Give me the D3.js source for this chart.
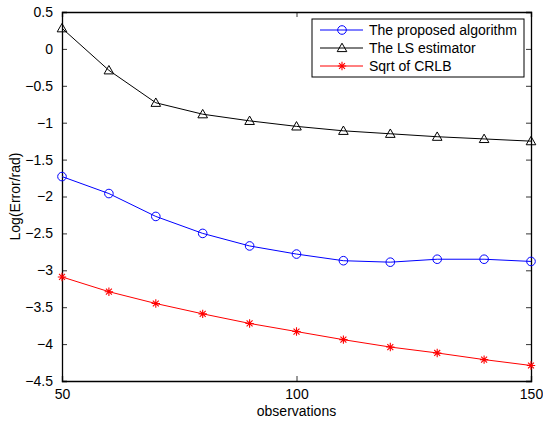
<!DOCTYPE html>
<html>
<head>
<meta charset="utf-8">
<script src="https://cdn.jsdelivr.net/npm/d3@7"></script>
<style>
  body { margin: 0; background: #fff; }
  svg text { font-family: "Liberation Sans", Arial, Helvetica, sans-serif; }
</style>
</head>
<body>
<div id="chart"></div>
<script>
// observations on the x axis
const observations = [50, 60, 70, 80, 90, 100, 110, 120, 130, 140, 150];
// log error values
const proposed = [-1.73, -1.96, -2.27, -2.50, -2.67, -2.78, -2.87, -2.89, -2.85, -2.85, -2.88];
const lsEstimator = [0.28, -0.29, -0.73, -0.885, -0.975, -1.05, -1.11, -1.15, -1.19, -1.22, -1.25];
const sqrtCrlb = [-3.09, -3.29, -3.45, -3.59, -3.72, -3.83, -3.94, -4.04, -4.12, -4.21, -4.29];
const xTicks = [50, 100, 150];
const yTicks = [0.5, 0, -0.5, -1, -1.5, -2, -2.5, -3, -3.5, -4, -4.5];

const series = [
  {name: "The proposed algorithm", values: proposed, color: "#0000ff", marker: "circle"},
  {name: "The LS estimator", values: lsEstimator, color: "#000000", marker: "triangle"},
  {name: "Sqrt of CRLB", values: sqrtCrlb, color: "#ff0000", marker: "star"}
];

const width = 543, height = 424;
const margin = {top: 12, right: 12, bottom: 43, left: 62};
const fontSize = 14;

const svg = d3.select("#chart").append("svg")
  .attr("width", width).attr("height", height);

const x = d3.scaleLinear().domain([50, 150]).range([margin.left, width - margin.right]);
const y = d3.scaleLinear().domain([-4.5, 0.5]).range([height - margin.bottom, margin.top]);

const fmt = d => d < 0 ? "\u2212" + Math.abs(d) : String(d);

// axes, ticks pointing inward like matlab
const tickLen = 5;
svg.append("g").attr("transform", `translate(0,${y(-4.5)})`)
  .call(d3.axisBottom(x).tickValues(xTicks).tickSize(-tickLen).tickPadding(8).tickFormat(fmt));
svg.append("g").attr("transform", `translate(0,${y(0.5)})`)
  .call(d3.axisTop(x).tickValues(xTicks).tickSize(-tickLen).tickFormat(""));
svg.append("g").attr("transform", `translate(${x(50)},0)`)
  .call(d3.axisLeft(y).tickValues(yTicks).tickSize(-tickLen).tickPadding(9).tickFormat(fmt));
svg.append("g").attr("transform", `translate(${x(150)},0)`)
  .call(d3.axisRight(y).tickValues(yTicks).tickSize(-tickLen).tickFormat(""));

svg.selectAll(".domain").attr("stroke", "#000").attr("stroke-width", 1.3);
svg.selectAll(".tick line").attr("stroke", "#000").attr("stroke-width", 0.8);
svg.selectAll(".tick text").attr("font-size", fontSize).attr("fill", "#000")
  .attr("font-family", "Liberation Sans, Arial, sans-serif");

// axis titles
svg.append("text").attr("x", x(100)).attr("y", 416)
  .attr("text-anchor", "middle").attr("font-size", fontSize).text("observations");
svg.append("text").attr("transform", `translate(20,${y(-2)}) rotate(-90)`)
  .attr("text-anchor", "middle").attr("font-size", fontSize).text("Log(Error/rad)");

const line = d3.line().x((d, i) => x(observations[i])).y(d => y(d));

function drawMarker(g, type, color) {
  if (type === "circle") {
    g.append("circle").attr("r", 4.3).attr("fill", "none").attr("stroke", color).attr("stroke-width", 1);
  } else if (type === "triangle") {
    g.append("path").attr("d", "M0,-4.8L4.8,3.6L-4.8,3.6Z")
      .attr("fill", "none").attr("stroke", color).attr("stroke-width", 1);
  } else {
    const r = 4.2;
    const d = [0, 45, 90, 135].map(a => {
      const t = a * Math.PI / 180;
      return `M${-r * Math.cos(t)},${-r * Math.sin(t)}L${r * Math.cos(t)},${r * Math.sin(t)}`;
    }).join("");
    g.append("path").attr("d", d).attr("stroke", color).attr("stroke-width", 1.1);
  }
}

series.forEach(s => {
  svg.append("path").datum(s.values).attr("d", line)
    .attr("fill", "none").attr("stroke", s.color).attr("stroke-width", 1);
  s.values.forEach((v, i) => {
    const g = svg.append("g").attr("transform", `translate(${x(observations[i])},${y(v)})`);
    drawMarker(g, s.marker, s.color);
  });
});

// legend
const legend = svg.append("g").attr("transform", "translate(312,19)");
legend.append("rect").attr("width", 212).attr("height", 58)
  .attr("fill", "#fff").attr("stroke", "#000").attr("stroke-width", 1);
series.forEach((s, i) => {
  const ly = 11 + i * 18;
  legend.append("line").attr("x1", 8).attr("x2", 51).attr("y1", ly).attr("y2", ly)
    .attr("stroke", s.color).attr("stroke-width", 1);
  drawMarker(legend.append("g").attr("transform", `translate(30,${ly})`), s.marker, s.color);
  legend.append("text").attr("x", 57).attr("y", ly + 5).attr("font-size", fontSize).text(s.name);
});
</script>
</body>
</html>
